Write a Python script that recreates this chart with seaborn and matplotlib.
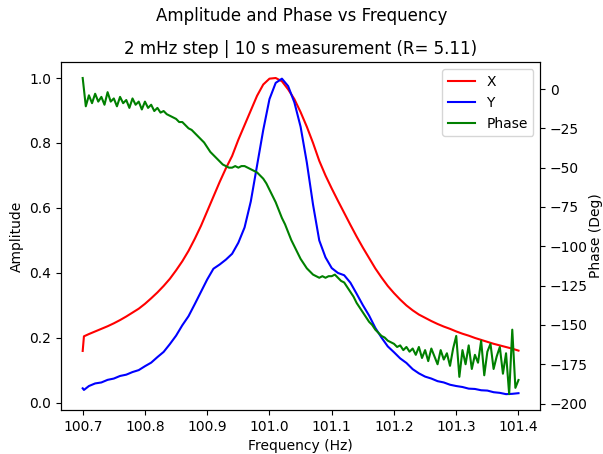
import numpy as np
import pandas as pd
import seaborn as sns
import matplotlib
matplotlib.use("Agg")
import matplotlib.pyplot as plt

# amplitude sweep (normalised) at ~10 mHz
freq_xy = [100.700, 100.702, 100.71, 100.72, 100.73, 100.74, 100.75, 100.76, 100.77,
           100.78, 100.79, 100.80, 100.81, 100.82, 100.83, 100.84, 100.85, 100.86,
           100.87, 100.88, 100.89, 100.90, 100.91, 100.92, 100.93, 100.94, 100.95,
           100.96, 100.97, 100.98, 100.99, 101.00, 101.01, 101.02, 101.03, 101.04,
           101.05, 101.06, 101.07, 101.08, 101.09, 101.10, 101.11, 101.12, 101.13,
           101.14, 101.15, 101.16, 101.17, 101.18, 101.19, 101.20, 101.21, 101.22,
           101.23, 101.24, 101.25, 101.26, 101.27, 101.28, 101.29, 101.30, 101.31,
           101.32, 101.33, 101.34, 101.35, 101.36, 101.37, 101.38, 101.39, 101.40]
x_amp = [0.160, 0.205, 0.212, 0.220, 0.228, 0.236, 0.245, 0.255, 0.266,
         0.278, 0.290, 0.305, 0.322, 0.340, 0.360, 0.382, 0.408, 0.436,
         0.468, 0.505, 0.545, 0.590, 0.635, 0.680, 0.722, 0.760, 0.810,
         0.855, 0.900, 0.945, 0.980, 0.998, 1.000, 0.990, 0.965, 0.935,
         0.895, 0.850, 0.800, 0.745, 0.700, 0.660, 0.622, 0.585, 0.548,
         0.512, 0.478, 0.446, 0.414, 0.386, 0.360, 0.338, 0.318, 0.300,
         0.285, 0.272, 0.262, 0.252, 0.243, 0.235, 0.228, 0.220, 0.213,
         0.207, 0.200, 0.194, 0.188, 0.182, 0.177, 0.172, 0.167, 0.161]
y_amp = [0.045, 0.040, 0.052, 0.060, 0.063, 0.071, 0.075, 0.083, 0.087,
         0.095, 0.101, 0.113, 0.124, 0.141, 0.157, 0.181, 0.207, 0.239,
         0.267, 0.304, 0.342, 0.380, 0.413, 0.426, 0.441, 0.459, 0.493,
         0.540, 0.620, 0.730, 0.840, 0.935, 0.985, 0.998, 0.975, 0.925,
         0.850, 0.740, 0.610, 0.500, 0.448, 0.415, 0.400, 0.393, 0.370,
         0.336, 0.301, 0.269, 0.231, 0.201, 0.174, 0.156, 0.137, 0.123,
         0.104, 0.091, 0.081, 0.075, 0.067, 0.063, 0.056, 0.052, 0.049,
         0.044, 0.043, 0.039, 0.038, 0.033, 0.031, 0.027, 0.028, 0.030]

# phase, read at 5 mHz
freq_ph = [round(100.7 + 0.005 * i, 3) for i in range(141)]
phase = [7, -11, -4, -9, -3, -8, -5, -10, -2, -8,
         -6, -11, -5, -9, -7, -12, -6, -10, -8, -13,
         -8, -12, -10, -14, -12, -15, -14, -16, -17, -18,
         -19, -21, -21, -23, -25, -26, -28, -30, -32, -34,
         -37, -40, -42, -44, -46, -48, -49, -50, -50, -49,
         -50, -49, -49, -50, -51, -52, -53, -55, -57, -60,
         -64, -68, -72, -77, -82, -86, -91, -96, -100, -104,
         -108, -111, -114, -116, -118, -119, -120, -119, -120, -119,
         -119, -118, -120, -122, -123, -126, -129, -132, -136, -139,
         -142, -145, -148, -150, -153, -155, -157, -158, -160, -161,
         -162, -164, -163, -166, -164, -167, -165, -169, -164, -171,
         -166, -173, -165, -170, -175, -166, -172, -168, -176, -165,
         -157, -183, -166, -175, -163, -178, -169, -174, -160, -182,
         -167, -162, -178, -170, -164, -181, -168, -194, -153, -190,
         -185]

amp = pd.DataFrame({"freq": freq_xy, "X": x_amp, "Y": y_amp})
ph = pd.DataFrame({"freq": freq_ph, "phase": phase})

fig, ax1 = plt.subplots(figsize=(6.03, 4.54), dpi=100)
fig.subplots_adjust(left=0.101, right=0.896, top=0.863, bottom=0.097)
ax2 = ax1.twinx()

sns.lineplot(data=amp, x="freq", y="X", color="red", label="X", ax=ax1)
sns.lineplot(data=amp, x="freq", y="Y", color="blue", label="Y", ax=ax1)
sns.lineplot(data=ph, x="freq", y="phase", color="green", label="Phase", ax=ax2)

ax1.set_xlabel("Frequency (Hz)")
ax1.set_ylabel("Amplitude")
ax2.set_ylabel("Phase (Deg)", labelpad=1)
ax1.set_xticks(np.round(np.arange(100.7, 101.41, 0.1), 1))
ax1.set_yticks(np.arange(0, 1.01, 0.2))
ax2.set_yticks(np.arange(-200, 1, 25))

h1, l1 = ax1.get_legend_handles_labels()
h2, l2 = ax2.get_legend_handles_labels()
ax1.get_legend().remove()
ax2.get_legend().remove()
ax2.legend(h1 + h2, l1 + l2, loc="upper right")

ax1.set_title("2 mHz step | 10 s measurement (R= 5.11)")
fig.suptitle("Amplitude and Phase vs Frequency", y=0.985)

plt.savefig("out.png", dpi=100)
